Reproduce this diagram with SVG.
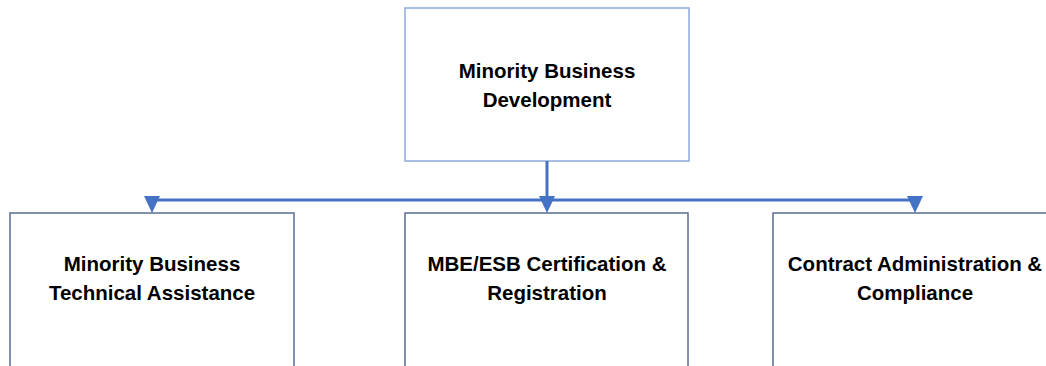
<svg xmlns="http://www.w3.org/2000/svg" width="1046" height="366" viewBox="0 0 1046 366">
<style>
.box{fill:#fff;stroke:#5a6b98;stroke-width:1.5}
.top{fill:#fff;stroke:#8eaadb;stroke-width:1.5}
.t{font-family:"Liberation Sans",Arial,sans-serif;font-weight:bold;font-size:20.5px;fill:#000;text-anchor:middle}
.c{stroke:#4472c4;stroke-width:3;fill:none}
.h{fill:#4472c4}
</style>
<rect width="1046" height="366" fill="#fff"/>
<g id="n0">
<rect class="top" x="405" y="8" width="284" height="153"/>
<text class="t" x="547" y="78">Minority Business</text>
<text class="t" x="547" y="107">Development</text>
</g>
<g id="n1">
<rect class="box" x="10" y="213" width="284" height="170"/>
<text class="t" x="152" y="271">Minority Business</text>
<text class="t" x="152" y="300">Technical Assistance</text>
</g>
<g id="n2">
<rect class="box" x="405" y="213" width="283" height="170"/>
<text class="t" x="547" y="271">MBE/ESB Certification &amp;</text>
<text class="t" x="547" y="300">Registration</text>
</g>
<g id="n3">
<rect class="box" x="773" y="213" width="290" height="170"/>
<text class="t" x="915" y="271">Contract Administration &amp;</text>
<text class="t" x="915" y="300">Compliance</text>
</g>
<g id="connectors">
<path class="c" d="M547 161 V199"/>
<path class="c" d="M152 200 H915"/>
<polygon class="h" points="144,196 160,196 152,213"/>
<polygon class="h" points="539,196 555,196 547,213"/>
<polygon class="h" points="907,196 923,196 915,213"/>
</g>
</svg>
